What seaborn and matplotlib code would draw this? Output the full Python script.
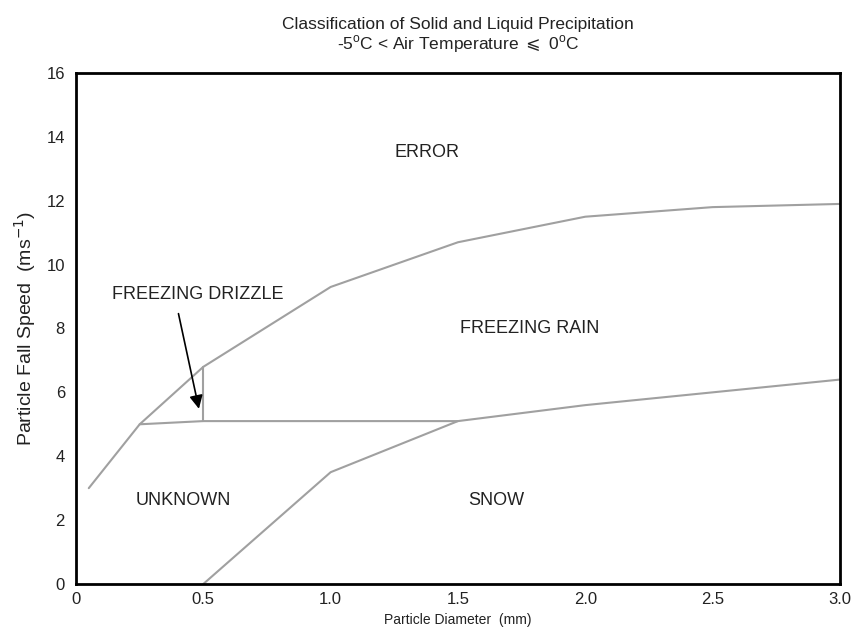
import matplotlib
matplotlib.use('Agg')
import matplotlib.pyplot as plt
import seaborn as sns
import pandas as pd

# Boundary lines (diameter in mm, fall speed in m/s)
upper_x = [0.05, 0.25, 0.5, 1.0, 1.5, 2.0, 2.5, 3.0]
upper_y = [3.0, 5.0, 6.8, 9.3, 10.7, 11.5, 11.8, 11.9]
lower_x = [0.5, 1.0, 1.5, 2.0, 2.5, 3.0]
lower_y = [0.0, 3.5, 5.1, 5.6, 6.0, 6.4]
mid_x = [0.25, 0.5, 1.5]
mid_y = [5.0, 5.1, 5.1]
drizzle_x = [0.5, 0.5]
drizzle_y = [5.1, 6.8]

region_names = ['ERROR', 'FREEZING RAIN', 'FREEZING DRIZZLE', 'UNKNOWN', 'SNOW']
region_x = [1.38, 1.78, 0.48, 0.42, 1.65]
region_y = [13.5, 8.0, 9.05, 2.6, 2.6]

segments = pd.concat([
    pd.DataFrame({'d': upper_x, 'v': upper_y, 'seg': 'upper'}),
    pd.DataFrame({'d': lower_x, 'v': lower_y, 'seg': 'lower'}),
    pd.DataFrame({'d': mid_x, 'v': mid_y, 'seg': 'mid'}),
    pd.DataFrame({'d': drizzle_x, 'v': drizzle_y, 'seg': 'drizzle'}),
])

sns.set_style('white')
plt.rcParams['font.family'] = ['Liberation Sans', 'DejaVu Sans']

fig = plt.figure(figsize=(8.67, 6.32), dpi=100)
ax = fig.add_axes([0.0877, 0.076, 0.881, 0.8085])

for seg, grp in segments.groupby('seg', sort=False):
    sns.lineplot(data=grp, x='d', y='v', sort=False, estimator=None,
                 color='#a0a0a0', linewidth=1.5, ax=ax)

for name, x, y in zip(region_names, region_x, region_y):
    ax.text(x, y, name, ha='center', va='center', fontsize=13, color='#222222')

ax.annotate('', xy=(0.485, 5.4), xytext=(0.40, 8.55),
            arrowprops=dict(arrowstyle='-|>', color='black', lw=1.2,
                            mutation_scale=20))

ax.set_xlim(0, 3.0)
ax.set_ylim(0, 16)
ax.set_xticks([0, 0.5, 1.0, 1.5, 2.0, 2.5, 3.0])
ax.set_xticklabels(['0', '0.5', '1.0', '1.5', '2.0', '2.5', '3.0'])
ax.set_yticks(range(0, 17, 2))
ax.tick_params(direction='in', length=8, width=1.2, labelsize=12,
               color='black', labelcolor='#222222')
ax.tick_params(axis='y', pad=8)
ax.tick_params(axis='x', pad=6)
for sp in ax.spines.values():
    sp.set_visible(True)
    sp.set_color('black')
    sp.set_linewidth(2)

ax.set_xlabel('Particle Diameter  (mm)', fontsize=10, labelpad=4, color='#222222')
ax.set_ylabel('Particle Fall Speed  (ms$^{-1}$)', fontsize=14, labelpad=6, color='#222222')
ax.set_title('Classification of Solid and Liquid Precipitation\n'
             '-5$^{\\mathregular{o}}$C < Air Temperature ${\\leqslant}$ 0$^{\\mathregular{o}}$C',
             fontsize=12.5, pad=17, linespacing=1.1, color='#222222')

plt.savefig('out.png', dpi=100)
